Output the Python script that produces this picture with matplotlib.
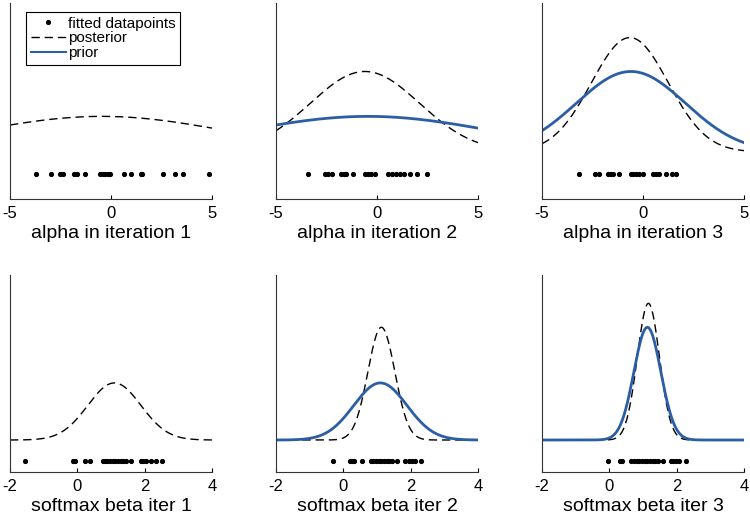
import numpy as np
import matplotlib
matplotlib.use("Agg")
import matplotlib.pyplot as plt

plt.rcParams['font.family'] = ['Liberation Sans', 'DejaVu Sans']
plt.rcParams['axes.unicode_minus'] = False

# fitted datapoints per iteration
alpha_points = [
    [-3.71, -2.99, -2.52, -2.39, -1.83, -1.67, -1.29, -0.55, -0.42, -0.28, -0.15, -0.05,
     0.64, 0.97, 1.48, 1.55, 2.56, 3.17, 3.58, 4.87],
    [-3.42, -2.57, -2.43, -2.24, -1.77, -1.64, -1.51, -1.21, -0.58, -0.45, -0.28, -0.08,
     0.55, 0.74, 0.94, 1.14, 1.34, 1.61, 2.0, 2.47],
    [-3.15, -2.39, -2.18, -1.73, -1.60, -1.49, -1.20, -0.61, -0.50, -0.35, -0.20, 0.0,
     0.50, 0.66, 0.79, 1.16, 1.45, 1.65],
]
beta_points = [
    [-1.55, -0.14, -0.08, 0.22, 0.38, 0.77, 0.83, 0.89, 0.97, 1.05, 1.13, 1.21, 1.29,
     1.37, 1.45, 1.58, 1.88, 1.96, 2.04, 2.18, 2.34, 2.51],
    [-0.32, 0.21, 0.27, 0.33, 0.55, 0.81, 0.89, 0.97, 1.05, 1.13, 1.21, 1.29, 1.37,
     1.45, 1.60, 1.84, 1.94, 2.04, 2.14, 2.30],
    [-0.05, 0.31, 0.39, 0.65, 0.73, 0.81, 0.89, 0.97, 1.05, 1.13, 1.21, 1.29, 1.37,
     1.45, 1.60, 1.82, 1.90, 1.98, 2.06, 2.28],
]

# normal posterior (mean, sd) per iteration; the prior of iteration k is posterior k-1
alpha_post_mu = [-0.45, -0.6, -0.65]
alpha_post_sd = [6.1, 2.7, 1.9]
beta_post_mu = [1.1, 1.13, 1.16]
beta_post_sd = [0.79, 0.4, 0.33]

alpha_labels = ['alpha in iteration 1', 'alpha in iteration 2', 'alpha in iteration 3']
beta_labels = ['softmax beta iter 1', 'softmax beta iter 2', 'softmax beta iter 3']

alpha_xlim = (-5, 5)
alpha_ticks = [-5, 0, 5]
beta_xlim = (-2, 4)
beta_ticks = [-2, 0, 2, 4]

BLUE = '#2c5ea6'


def normpdf(x, mu, sd):
    return np.exp(-0.5 * ((x - mu) / sd) ** 2) / (sd * np.sqrt(2 * np.pi))


def draw_panel(ax, points, post_mu, post_sd, prior, xlim, ticks, ylim, dot_y, label, legend=False):
    x = np.linspace(xlim[0], xlim[1], 400)
    ax.plot(points, [dot_y] * len(points), '.', color='black', markersize=5.5,
            label='fitted datapoints')
    ax.plot(x, normpdf(x, post_mu, post_sd), color='black', lw=1.0,
            dashes=(6, 3.5), label='posterior')
    if prior is not None:
        ax.plot(x, normpdf(x, prior[0], prior[1]), color=BLUE, lw=2.0, label='prior')
    else:
        ax.plot([], [], color=BLUE, lw=1.5, label='prior')
    ax.set_xlim(xlim)
    ax.set_ylim(ylim)
    ax.set_xticks(ticks)
    ax.set_yticks([])
    ax.spines['top'].set_visible(False)
    ax.spines['right'].set_visible(False)
    ax.spines['left'].set_color('#333333')
    ax.spines['bottom'].set_color('#333333')
    ax.tick_params(axis='x', direction='in', length=3, pad=5, labelsize=12)
    ax.set_xlabel(label, fontsize=14, labelpad=3)
    if legend:
        leg = ax.legend(loc='upper left', bbox_to_anchor=(0.079, 0.954), borderaxespad=0,
                        fontsize=11, fancybox=False, edgecolor='black', framealpha=1,
                        handlelength=2.3, handletextpad=0.15, labelspacing=0.05,
                        borderpad=0.3)
        leg.get_frame().set_linewidth(0.8)


fig = plt.figure(figsize=(7.5, 5.15), dpi=100)
lefts = [10 / 750, 276 / 750, 542 / 750]
w = 202 / 750

for i in range(3):
    ax = fig.add_axes([lefts[i], (515 - 199) / 515, w, 196 / 515])
    prior = None if i == 0 else (alpha_post_mu[i - 1], alpha_post_sd[i - 1])
    draw_panel(ax, alpha_points[i], alpha_post_mu[i], alpha_post_sd[i], prior,
               alpha_xlim, alpha_ticks, (-0.0862, 0.2734), -0.040, alpha_labels[i],
               legend=(i == 0))

for i in range(3):
    ax = fig.add_axes([lefts[i], (515 - 472) / 515, w, 197 / 515])
    prior = None if i == 0 else (beta_post_mu[i - 1], beta_post_sd[i - 1])
    draw_panel(ax, beta_points[i], beta_post_mu[i], beta_post_sd[i], prior,
               beta_xlim, beta_ticks, (-0.283, 1.46), -0.186, beta_labels[i])

fig.savefig('out.png', dpi=100)
